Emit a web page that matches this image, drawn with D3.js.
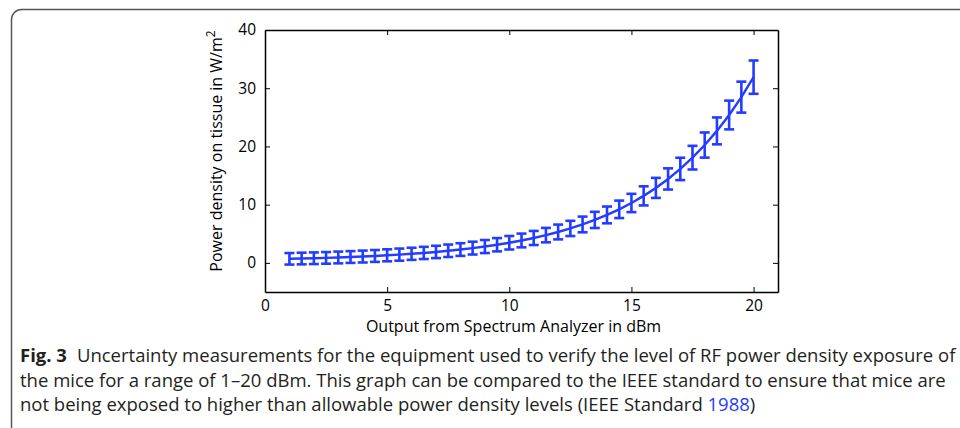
<!DOCTYPE html>
<html>
<head>
<meta charset="utf-8">
<script src="https://cdn.jsdelivr.net/npm/d3@7"></script>
<style>
  body { margin: 0; background: #fff; }
  svg { display: block; font-family: "Open Sans", sans-serif; }
</style>
</head>
<body>
<svg id="fig" width="960" height="428"></svg>
<script>
// x values in dBm (1 to 20, every 0.5)
const dbm = [1, 1.5, 2, 2.5, 3, 3.5, 4, 4.5, 5, 5.5, 6, 6.5, 7, 7.5, 8, 8.5, 9, 9.5, 10,
  10.5, 11, 11.5, 12, 12.5, 13, 13.5, 14, 14.5, 15, 15.5, 16, 16.5, 17, 17.5, 18, 18.5, 19, 19.5, 20];
// power density in W/m^2
const density = [0.70, 0.75, 0.80, 0.86, 0.93, 1.01, 1.09, 1.19, 1.30, 1.42, 1.56, 1.71, 1.88,
  2.08, 2.29, 2.54, 2.81, 3.12, 3.46, 3.85, 4.28, 4.77, 5.31, 5.92, 6.60, 7.38, 8.24, 9.20,
  10.29, 11.51, 12.88, 14.42, 16.14, 18.07, 20.24, 22.67, 25.40, 28.47, 31.90];
// half height of each error bar
const uncertainty = [0.99, 1.00, 1.00, 1.00, 1.01, 1.01, 1.02, 1.02, 1.03, 1.04, 1.04, 1.05, 1.06,
  1.07, 1.09, 1.10, 1.12, 1.14, 1.16, 1.18, 1.21, 1.24, 1.27, 1.31, 1.35, 1.39, 1.44, 1.50,
  1.57, 1.64, 1.72, 1.82, 1.92, 2.03, 2.16, 2.31, 2.47, 2.66, 2.86];
const xTicks = [0, 5, 10, 15, 20];
const yTicks = [0, 10, 20, 30, 40];

const captionLines = [
  "Uncertainty measurements for the equipment used to verify the level of RF power density exposure of",
  "the mice for a range of 1\u201320 dBm. This graph can be compared to the IEEE standard to ensure that mice are",
  "not being exposed to higher than allowable power density levels (IEEE Standard "
];

const margin = {top: 30, right: 182, bottom: 136, left: 265};
const W = 960, H = 428;
const width = W - margin.left - margin.right;
const height = H - margin.top - margin.bottom;
const blue = "#233cff";

const data = dbm.map((d, i) => ({x: d, y: density[i], e: uncertainty[i]}));

const svg = d3.select("#fig");

// rounded frame around the figure (only left and top are visible)
svg.append("rect")
    .attr("x", 11.5).attr("y", 9.5)
    .attr("width", 1000).attr("height", 440)
    .attr("rx", 10)
    .attr("fill", "none")
    .attr("stroke", "#555")
    .attr("stroke-width", 1.5);

const chart = svg.append("g")
    .attr("transform", `translate(${margin.left},${margin.top})`);

const xScale = d3.scaleLinear().domain([0, 21]).range([0, width]);
const yScale = d3.scaleLinear().domain([-5, 40]).range([height, 0]);

// axes with inside ticks on all four sides
const xAxis = d3.axisBottom(xScale).tickValues(xTicks).tickSizeInner(-5).tickSizeOuter(0).tickPadding(8);
const yAxis = d3.axisLeft(yScale).tickValues(yTicks).tickSizeInner(-5).tickSizeOuter(0).tickPadding(9);
const xTop = d3.axisTop(xScale).tickValues(xTicks).tickSizeInner(-5).tickSizeOuter(0).tickFormat("");
const yRight = d3.axisRight(yScale).tickValues(yTicks).tickSizeInner(-5).tickSizeOuter(0).tickFormat("");

const styleAxis = g => {
  g.selectAll("path").attr("stroke", "#000").attr("stroke-width", 1.5);
  g.selectAll("line").attr("stroke", "#000");
  g.selectAll("text").attr("fill", "#000").style("font-size", "15.5px").style("font-family", "Open Sans, sans-serif");
};

chart.append("g").attr("transform", `translate(0,${height})`).call(xAxis).call(styleAxis);
chart.append("g").call(yAxis).call(styleAxis);
chart.append("g").call(xTop).call(styleAxis);
chart.append("g").attr("transform", `translate(${width},0)`).call(yRight).call(styleAxis);

// line through the means
const line = d3.line().x(d => xScale(d.x)).y(d => yScale(d.y));
chart.append("path")
    .datum(data)
    .attr("d", line)
    .attr("fill", "none")
    .attr("stroke", blue)
    .attr("stroke-width", 2.4);

// error bars
const capW = 5;
const bars = chart.append("g")
    .attr("stroke", blue)
    .attr("stroke-width", 2.6)
    .selectAll("g")
    .data(data)
  .join("g");
bars.append("line")
    .attr("x1", d => xScale(d.x)).attr("x2", d => xScale(d.x))
    .attr("y1", d => yScale(d.y - d.e)).attr("y2", d => yScale(d.y + d.e));
bars.append("line")
    .attr("x1", d => xScale(d.x) - capW).attr("x2", d => xScale(d.x) + capW)
    .attr("y1", d => yScale(d.y + d.e)).attr("y2", d => yScale(d.y + d.e));
bars.append("line")
    .attr("x1", d => xScale(d.x) - capW).attr("x2", d => xScale(d.x) + capW)
    .attr("y1", d => yScale(d.y - d.e)).attr("y2", d => yScale(d.y - d.e));

// axis titles
chart.append("text")
    .attr("x", width / 2 - 8)
    .attr("y", height + 40)
    .attr("text-anchor", "middle")
    .style("font-size", "16px")
    .text("Output from Spectrum Analyzer in dBm");

const yTitle = chart.append("text")
    .attr("transform", `translate(-43,${height / 2 - 10}) rotate(-90)`)
    .attr("text-anchor", "middle")
    .style("font-size", "16px");
yTitle.append("tspan").text("Power density on tissue in W/m");
yTitle.append("tspan").attr("dy", -7).style("font-size", "12px").text("2");

// caption
const cap = svg.append("g").style("font-size", "18.5px").attr("fill", "#231f20");
const first = cap.append("text").attr("x", 20).attr("y", 362);
first.append("tspan").style("font-weight", "bold").text("Fig. 3");
first.append("tspan").attr("dx", 10).text(captionLines[0]);
cap.append("text").attr("x", 20).attr("y", 387).text(captionLines[1]);
const last = cap.append("text").attr("x", 20).attr("y", 411);
last.append("tspan").text(captionLines[2]);
last.append("tspan").attr("fill", "#233cff").text("1988");
last.append("tspan").text(")");
</script>
</body>
</html>
